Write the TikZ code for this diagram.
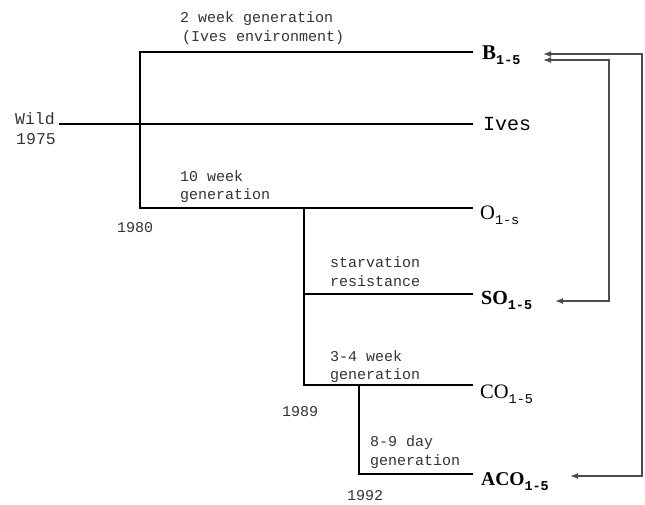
\documentclass[tikz,border=0pt]{standalone}
\usepackage{fontspec}
\setmainfont{Liberation Serif}
\setmonofont{Liberation Mono}
\usetikzlibrary{arrows.meta}
\newcommand{\subfive}[1]{\raisebox{-5.5pt}{\fontsize{13.5}{14}\selectfont\ttfamily #1}}
\begin{document}
\begin{tikzpicture}[x=1pt,y=-1pt,
  branch/.style={line width=2.6pt,line cap=rect},
  fb/.style={line width=1.5pt,black!70,{Latex[length=8pt,width=6pt]}-{Latex[length=8pt,width=6pt]}},
  lab/.style={anchor=base west,inner sep=0pt,font=\fontsize{15}{18}\selectfont\ttfamily,text=black!80},
  wlab/.style={anchor=base west,inner sep=0pt,font=\fontsize{16.5}{18}\selectfont\ttfamily,text=black!80},
  pop/.style={anchor=base west,inner sep=0pt,font=\fontsize{20.5}{22}\selectfont},
  popb/.style={anchor=base west,inner sep=0pt,font=\fontsize{21}{22}\selectfont\bfseries}]
\useasboundingbox (0,0) rectangle (645,504);
% branch points
\coordinate (r0) at (140,52);
\coordinate (r1) at (140,208);
\coordinate (s1) at (304,208);
\coordinate (s2) at (304,294);
\coordinate (s3) at (304,385);
\coordinate (t1) at (359,385);
\coordinate (t2) at (359,474);
\coordinate (wstart) at (60,124);
% line ends
\coordinate (eB) at (472,52);
\coordinate (eI) at (472,124);
\coordinate (eO) at (472,208);
\coordinate (eSO) at (472,294);
\coordinate (eCO) at (472,385);
\coordinate (eACO) at (472,474);
% tree
\draw[branch] (eB) -- (r0) -- (r1) -- (eO);
\draw[branch] (wstart) -- (eI);
\draw[branch] (s1) -- (s3) -- (eCO);
\draw[branch] (s2) -- (eSO);
\draw[branch] (t1) -- (t2) -- (eACO);
% population labels
\node[popb] (B) at (482,59) {B\subfive{1-5}};
\node[pop,font=\fontsize{20}{22}\selectfont\ttfamily] (Ives) at (483,130) {Ives};
\node[pop] (O) at (480,219) {O\subfive{1-s}};
\node[popb,font=\fontsize{20}{22}\selectfont\bfseries] (SO) at (481,304) {SO\subfive{1-5}};
\node[pop] (CO) at (480,398) {CO\subfive{1-5}};
\node[popb,font=\fontsize{19.5}{22}\selectfont\bfseries] (ACO) at (481,485) {ACO\subfive{1-5}};
% text labels
\node[lab] (l1a) at (180,22) {2 week generation};
\node[lab] (l1b) at (182,41) {(Ives environment)};
\node[wlab] (wild) at (15,124) {Wild};
\node[wlab] (y75) at (16,144) {1975};
\node[lab] (l2a) at (180,181) {10 week};
\node[lab] (l2b) at (180,199) {generation};
\node[lab] (y80) at (117,232) {1980};
\node[lab] (l3a) at (330,267) {starvation};
\node[lab] (l3b) at (330,286) {resistance};
\node[lab] (l4a) at (330,361) {3-4 week};
\node[lab] (l4b) at (330,379) {generation};
\node[lab] (y89) at (282,416) {1989};
\node[lab] (l5a) at (370,446) {8-9 day};
\node[lab] (l5b) at (370,465) {generation};
\node[lab] (y92) at (347,500) {1992};
% feedback arrows
\coordinate (aB1) at (543,54);
\coordinate (aB2) at (543,60);
\coordinate (aSO) at (555,301);
\coordinate (aACO) at (570,476);
\coordinate (outer) at (642,260);
\coordinate (inner) at (609,180);
\draw[fb] (aB1) -| (outer) |- (aACO);
\draw[fb] (aB2) -| (inner) |- (aSO);
\end{tikzpicture}
\end{document}
